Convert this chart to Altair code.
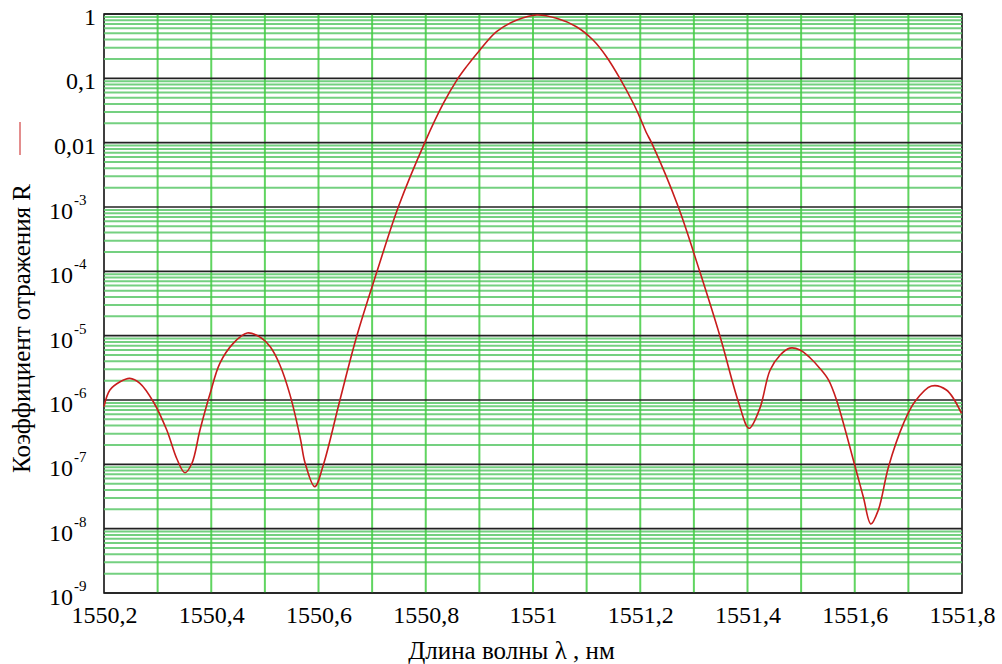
import altair as alt
import pandas as pd

# Reflection spectrum of the grating: wavelength (nm) and reflectance R
wavelength = [
    1550.200, 1550.211, 1550.230, 1550.248, 1550.267, 1550.292, 1550.317, 1550.336,
    1550.351, 1550.364, 1550.379, 1550.398, 1550.416, 1550.441, 1550.467, 1550.491,
    1550.510, 1550.528, 1550.547, 1550.566, 1550.575, 1550.593, 1550.609, 1550.640,
    1550.671, 1550.709, 1550.749, 1550.799, 1550.833, 1550.858, 1550.876, 1550.901,
    1550.932, 1550.970, 1551.007, 1551.044, 1551.081, 1551.112, 1551.137, 1551.162,
    1551.187, 1551.200, 1551.212, 1551.221, 1551.271, 1551.311, 1551.349, 1551.383,
    1551.403, 1551.423, 1551.442, 1551.461, 1551.479, 1551.498, 1551.517, 1551.535,
    1551.551, 1551.566, 1551.599, 1551.616, 1551.630, 1551.644, 1551.663, 1551.691,
    1551.712, 1551.743, 1551.771, 1551.799,
]
reflectance = [
    7.9e-7, 1.43e-6, 1.92e-6, 2.17e-6, 1.82e-6, 9.4e-7, 3.41e-7, 1.21e-7,
    7.4e-8, 1.04e-7, 3.41e-7, 1.27e-6, 3.72e-6, 7.6e-6, 1.10e-5, 9.5e-6,
    6.7e-6, 3.5e-6, 1.19e-6, 2.56e-7, 1.05e-7, 4.5e-8, 9.8e-8, 1.0e-6,
    9.6e-6, 9.9e-5, 1.01e-3, 0.0104, 0.041, 0.094, 0.152, 0.276,
    0.531, 0.807, 0.965, 0.857, 0.635, 0.394, 0.217, 0.100,
    0.041, 0.024, 0.014, 0.0100, 1.0e-3, 9.9e-5, 9.6e-6, 9.4e-7,
    3.63e-7, 7.4e-7, 2.9e-6, 5.0e-6, 6.4e-6, 6.0e-6, 4.5e-6, 3.1e-6,
    2.05e-6, 1.0e-6, 1.04e-7, 3.1e-8, 1.18e-8, 1.95e-8, 9.2e-8, 4.34e-7,
    9.4e-7, 1.65e-6, 1.43e-6, 6.2e-7,
]

# Axis ticks and labels
x_ticks = [1550.2, 1550.4, 1550.6, 1550.8, 1551.0, 1551.2, 1551.4, 1551.6, 1551.8]
x_grid = [1550.3, 1550.4, 1550.5, 1550.6, 1550.7, 1550.8, 1550.9, 1551.0,
          1551.1, 1551.2, 1551.3, 1551.4, 1551.5, 1551.6, 1551.7]
decades = [1, 0.1, 0.01, 1e-3, 1e-4, 1e-5, 1e-6, 1e-7, 1e-8, 1e-9]
decade_base = ["1", "0,1", "0,01", "10", "10", "10", "10", "10", "10", "10"]
decade_exp = ["", "", "", "-3", "-4", "-5", "-6", "-7", "-8", "-9"]
minor_lines = [m * d for d in decades[1:] for m in range(2, 10)]

FONT = "'Liberation Serif', 'DejaVu Serif', serif"
X_DOMAIN = [1550.2, 1551.8]
Y_DOMAIN = [1e-9, 1]

xs = alt.Scale(domain=X_DOMAIN, nice=False, zero=False)
ys = alt.Scale(type="log", domain=Y_DOMAIN, nice=False)

spectrum = pd.DataFrame({"wl": wavelength, "R": reflectance})
labels_df = pd.DataFrame({"v": decades, "base": decade_base, "exp": decade_exp})

minor = alt.Chart(pd.DataFrame({"v": minor_lines})).mark_rule(
    color="#5cc86a", strokeWidth=2, opacity=0.85
).encode(y=alt.Y("v:Q", scale=ys))

vgrid = alt.Chart(pd.DataFrame({"x": x_grid})).mark_rule(
    color="#44cc44", strokeWidth=2, opacity=0.85
).encode(x=alt.X("x:Q", scale=xs))

major = alt.Chart(pd.DataFrame({"v": decades})).mark_rule(
    color="#222222", strokeWidth=1.6
).encode(y=alt.Y("v:Q", scale=ys))

curve = alt.Chart(spectrum).mark_line(
    color="#c81c1c", strokeWidth=1.6, interpolate="catmull-rom"
).encode(
    x=alt.X(
        "wl:Q", scale=xs,
        axis=alt.Axis(
            values=x_ticks,
            labelExpr="replace(replace(format(datum.value, '.1f'), '.0', ''), '.', ',')",
            grid=False, ticks=False, domain=False,
            labelFont=FONT, labelFontSize=24, labelColor="black", labelPadding=10,
            labelOverlap=False, labelFlush=False,
            title="Длина волны λ , нм", titleFont=FONT, titleFontSize=25,
            titleFontWeight="normal", titleColor="black",
            titleX=407, titleY=57, titleBaseline="middle", titleAlign="center",
        ),
    ),
    y=alt.Y(
        "R:Q", scale=ys,
        axis=alt.Axis(
            labels=False, ticks=False, domain=False, grid=False,
            title="Коэффициент отражения R", titleFont=FONT, titleFontSize=25,
            titleFontWeight="normal", titleColor="black",
            titleX=-83, titleY=314, titleBaseline="middle", titleAlign="center",
            titleAngle=270,
        ),
    ),
)

plain_labels = alt.Chart(labels_df).transform_filter("datum.exp == ''").mark_text(
    font=FONT, fontSize=24, align="right", baseline="middle", dy=4, color="black"
).encode(y=alt.Y("v:Q", scale=ys), x=alt.value(-8), text="base:N")

pow_base = alt.Chart(labels_df).transform_filter("datum.exp != ''").mark_text(
    font=FONT, fontSize=24, align="right", baseline="middle", dy=5, color="black"
).encode(y=alt.Y("v:Q", scale=ys), x=alt.value(-31), text="base:N")

pow_exp = alt.Chart(labels_df).transform_filter("datum.exp != ''").mark_text(
    font=FONT, fontSize=15, align="left", baseline="middle", dy=-7, color="black"
).encode(y=alt.Y("v:Q", scale=ys), x=alt.value(-30), text="exp:N")

# small legend stroke next to the y title
legend_mark = alt.Chart(pd.DataFrame({"a": [0]})).mark_rule(
    color="#c81c1c", strokeWidth=1
).encode(x=alt.value(-84), y=alt.value(108), y2=alt.value(141))

chart = alt.layer(
    minor, vgrid, major, curve, plain_labels, pow_base, pow_exp, legend_mark
).properties(
    width=858, height=579,
    autosize=alt.AutoSizeParams(type="none"),
    padding={"left": 104, "top": 14, "right": 40, "bottom": 71},
    background="white",
).configure_view(stroke="black", strokeWidth=1.5)

chart.save("out.html", embed_options={"renderer": "svg", "actions": False})
